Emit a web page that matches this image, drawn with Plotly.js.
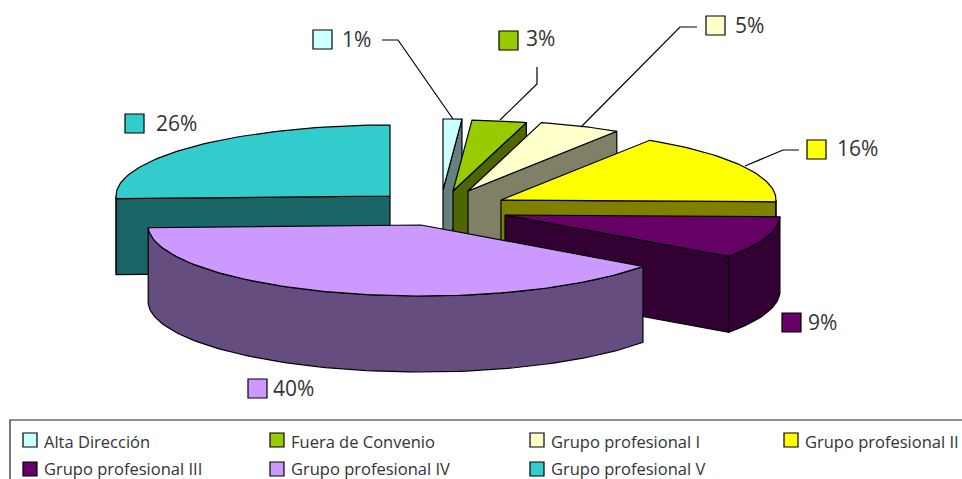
<!DOCTYPE html>
<html>
<head>
<meta charset="utf-8">
<script src="https://cdn.plot.ly/plotly-3.0.1.min.js"></script>
<style>html,body{margin:0;padding:0;background:#fff;overflow:hidden}#chart{width:962px;height:479px}</style>
</head>
<body>
<div id="chart"></div>
<script>
// Data
const categories = ["Alta Dirección","Fuera de Convenio","Grupo profesional I","Grupo profesional II","Grupo profesional III","Grupo profesional IV","Grupo profesional V"];
const shares = [1.1, 3.2, 4.8, 16.3, 9.49, 39.5, 25.61];

// Styles
const topColors  = ["#CCFFFF","#99CC00","#FFFFCC","#FFFF00","#660066","#CC99FF","#33CCCC"];
const wallColors = ["#668080","#4D6600","#808066","#808000","#330033","#664D80","#1A6666"];
const apexX = [443,453,468,501,505,421,390];
const apexY = [190,191,191,200,215,225,196];
const radiiX = [275,275,275,275,275,273,274];
const RY = 71, DEPTH = 76;
const drawOrder = [6,0,1,2,3,4,5];
const labelBoxX = [313,499,706,807,782,248,125];
const labelBoxY = [30,31,16,140,313,379,114];
const labelTextX = [340,524,733,835,806,271,154];
const labelTextY = [39,38,25,148,322,388,123];
const legendX = [23,270,530,784,23,270,530];
const legendY = [433,433,433,433,462,462,462];
const leaders = [
  [[382,40],[398,40],[453,119]],
  [[537,67],[537,84],[500,120]],
  [[697,27],[680,27],[581,127]],
  [[799,150],[783,150],[745,166]]
];
const outline = {color:"#000000", width:1.2};
const textColor = "#333333";
const fontFamily = '"Open Sans", "Noto Sans", sans-serif';

// Geometry derived from the shares
const total = shares.reduce((a,b)=>a+b,0);
const starts = []; let c = 0;
shares.forEach(v => { starts.push(c/total*360); c += v; });
const rad = d => d*Math.PI/180;
const pt = (i,deg,dz=0) => [apexX[i]+radiiX[i]*Math.sin(rad(deg)), apexY[i]-RY*Math.cos(rad(deg))+dz];
const arc = (i,a,b,dz=0) => {
  const n = Math.max(2,Math.ceil(Math.abs(b-a)/1.5)), out=[];
  for(let k=0;k<=n;k++) out.push(pt(i,a+(b-a)*k/n,dz));
  return out;
};
function poly(points,fill,name){
  const closed = points.concat([points[0]]);
  return {type:"scatter",mode:"lines",x:closed.map(p=>p[0]),y:closed.map(p=>p[1]),fill:"toself",
    fillcolor:fill,line:{color:outline.color,width:outline.width,shape:"linear"},
    name:name,hoverinfo:"name",showlegend:false};
}
const traces=[];
drawOrder.forEach(i=>{
  const a=starts[i], b=a+shares[i]/total*360, apex=[apexX[i],apexY[i]], apexLow=[apexX[i],apexY[i]+DEPTH];
  const name=categories[i];
  // visible radial walls
  if(Math.sin(rad(a))<-1e-6){
    const p=pt(i,a); traces.push(poly([apex,p,[p[0],p[1]+DEPTH],apexLow],wallColors[i],name));
  }
  if(Math.sin(rad(b))>1e-6){
    const p=pt(i,b); traces.push(poly([apex,p,[p[0],p[1]+DEPTH],apexLow],wallColors[i],name));
  }
  // visible outer wall
  const fa=Math.max(a,90), fb=Math.min(b,270);
  if(fb>fa){
    traces.push(poly(arc(i,fa,fb).concat(arc(i,fa,fb,DEPTH).reverse()),wallColors[i],name));
  }
  // top face
  traces.push(poly([apex].concat(arc(i,a,b)),topColors[i],name));
});

// Labels, leaders, legend
const shapes=[], annotations=[];
const txt=(x,y,t,size)=>({xref:"x",yref:"y",x:x,y:y,text:t,showarrow:false,xanchor:"left",yanchor:"middle",
  align:"left",font:{family:fontFamily,size:size,color:textColor}});
const box=(x,y,s,fill,w)=>({type:"rect",xref:"x",yref:"y",x0:x,y0:y,x1:x+s,y1:y+s,fillcolor:fill,line:{color:"#000000",width:w},layer:"above"});
categories.forEach((n,i)=>{
  shapes.push(box(labelBoxX[i],labelBoxY[i],19,topColors[i],1.2));
  annotations.push(txt(labelTextX[i],labelTextY[i],Math.round(shares[i])+"%",21));
  shapes.push(box(legendX[i],legendY[i],14,topColors[i],1.2));
  annotations.push(txt(legendX[i]+19,legendY[i]+(legendY[i]>450?6:8.5),n,16.5));
});
leaders.forEach(l=>{
  shapes.push({type:"path",xref:"x",yref:"y",path:"M"+l.map(p=>p.join(",")).join("L"),line:{color:"#000000",width:1.2},layer:"above"});
});
shapes.push({type:"rect",xref:"x",yref:"y",x0:10,y0:420,x1:970,y1:490,fillcolor:"rgba(0,0,0,0)",line:{color:"#222222",width:1.2},layer:"above"});

const hidden=r=>({range:r,visible:false,fixedrange:true,autorange:false});
Plotly.newPlot("chart",traces,{
  width:962,height:479,margin:{l:0,r:0,t:0,b:0,pad:0},
  paper_bgcolor:"#FFFFFF",plot_bgcolor:"#FFFFFF",showlegend:false,
  xaxis:hidden([0,962]),yaxis:hidden([479,0]),
  shapes:shapes,annotations:annotations,hovermode:"closest"
},{displayModeBar:false,staticPlot:false});
</script>
</body>
</html>
